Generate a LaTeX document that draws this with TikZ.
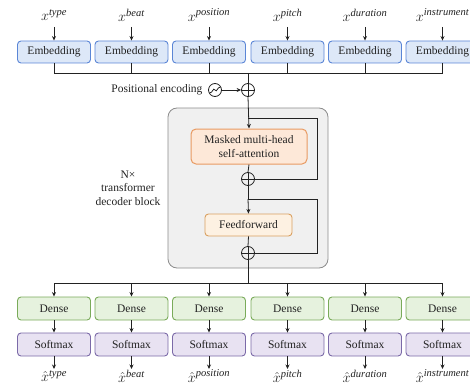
\documentclass[tikz,border=0pt]{standalone}
\usepackage{fontspec}
\setmainfont{Liberation Serif}
\usetikzlibrary{arrows.meta}
\definecolor{embB}{HTML}{5B86D6}
\definecolor{embF}{HTML}{DDE8F8}
\definecolor{denB}{HTML}{7AAB5A}
\definecolor{denF}{HTML}{E6F2DE}
\definecolor{smB}{HTML}{7B6AA8}
\definecolor{smF}{HTML}{E8E2F2}
\definecolor{mhB}{HTML}{E89A62}
\definecolor{mhF}{HTML}{FDE8D8}
\definecolor{ffB}{HTML}{D9A060}
\definecolor{ffF}{HTML}{FDF1E2}
\definecolor{blkB}{HTML}{8C8C8C}
\definecolor{blkF}{HTML}{F0F0F0}
\definecolor{ink}{HTML}{222222}
\begin{document}
\begin{tikzpicture}[x=1pt,y=-1pt, font=\fontsize{11.5}{13.5}\selectfont, text=ink,
 box/.style={draw, rounded corners=3.5pt, minimum width=73pt, minimum height=22pt, line width=0.9pt, inner sep=0pt},
 emb/.style={box, draw=embB, fill=embF},
 den/.style={box, draw=denB, fill=denF, minimum height=23pt},
 sm/.style={box, draw=smB, fill=smF, minimum height=23pt},
 lbl/.style={font=\fontsize{15}{17}\selectfont, inner sep=1pt},
 arr/.style={-{Stealth[length=4.5pt,width=4pt]}, line width=0.8pt, draw=ink},
 ln/.style={line width=0.8pt, draw=ink},
 oplus/.style={circle, draw=ink, line width=0.8pt, minimum size=13pt, inner sep=0pt,
   path picture={\draw[ink, line width=0.8pt] (path picture bounding box.north) -- (path picture bounding box.south) (path picture bounding box.west) -- (path picture bounding box.east);}}
]
\useasboundingbox (0,0) rectangle (470,385);
% inputs and embeddings
\foreach \i/\cx/\t in {1/54/type,2/131.5/beat,3/209/position,4/287.5/pitch,5/365/duration,6/442.5/instrument}{
  \node[lbl] (x\i) at (\cx,15) {$x^{\mathit{\t}}$};
  \node[emb] (e\i) at (\cx,52) {Embedding};
  \draw[arr] (\cx,27) -- (e\i.north);
  \node[den] (d\i) at (\cx,308.5) {Dense};
  \node[sm] (s\i) at (\cx,344.5) {Softmax};
  \node[lbl] (y\i) at (\cx,376) {$\hat{x}^{\mathit{\t}}$};
  \draw[arr] (d\i.south) -- (s\i.north);
  \draw[arr] (s\i.south) -- (\cx,369);
}
\coordinate (bus1) at (248,73);
\coordinate (bus2) at (248,283);
\foreach \i in {1,...,6}{
  \draw[ln] (e\i.south) -- (e\i.south |- bus1);
  \draw[arr] (d\i.north |- bus2) -- (d\i.north);
}
\draw[ln] (e1.south |- bus1) -- (e6.south |- bus1);
\draw[ln] (d1.north |- bus2) -- (d6.north |- bus2);
% positional encoding
\node[oplus] (p0) at (248,90) {};
\draw[ln] (bus1) -- (p0.north);
\node[circle, draw=ink, line width=0.8pt, minimum size=13pt, inner sep=0pt] (sin) at (215,90) {};
\draw[ink, line width=0.8pt] (209.5,93) .. controls (213,93) and (213,87) .. (215,90) .. controls (217,93) and (217,87) .. (220.5,87);
\node[anchor=east] (pe) at (206,90) {Positional encoding};
\draw[arr] (sin.east) -- (p0.west);
% decoder block
\node[draw=blkB, fill=blkF, line width=0.8pt, rounded corners=9pt, minimum width=160pt, minimum height=160pt] (blk) at (248,188) {};
\node[align=center] (nx) at (128,188) {N×\\transformer\\decoder block};
\node[box, draw=mhB, fill=mhF, minimum width=116pt, minimum height=35pt, rounded corners=5pt, align=center, line width=1pt] (mha) at (249,146.5) {Masked multi-head\\self-attention};
\node[oplus] (a1) at (248,179) {};
\node[box, draw=ffB, fill=ffF, minimum width=87pt, minimum height=22pt] (ff) at (248.5,225) {Feedforward};
\node[oplus] (a2) at (248,253) {};
\coordinate (r1) at (248,118);
\coordinate (r1e) at (317,118);
\coordinate (r2) at (248,199);
\coordinate (r2e) at (317,199);
\draw[arr] (p0.south) -- (mha.north);
\draw[ln] (r1) -- (r1e) |- (a1.east);
\draw[ln] (mha.south) -- (a1.north);
\draw[ln] (a1.south) -- (r2);
\draw[arr] (r2) -- (ff.north);
\draw[ln] (r2) -- (r2e) |- (a2.east);
\draw[ln] (ff.south) -- (a2.north);
\draw[ln] (a2.south) -- (bus2);
\end{tikzpicture}
\end{document}
